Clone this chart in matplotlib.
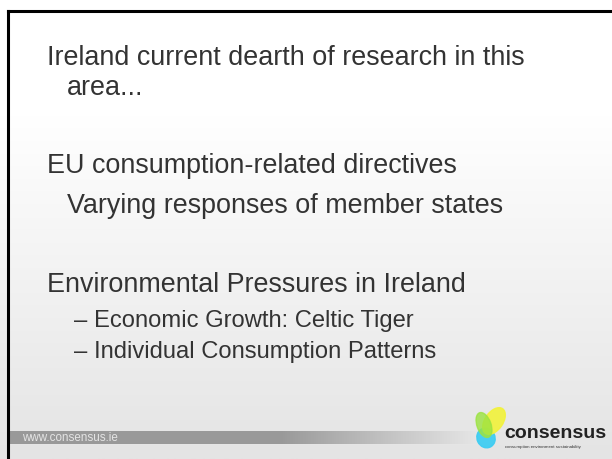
import numpy as np
import matplotlib
matplotlib.use("Agg")
import matplotlib.pyplot as plt
from matplotlib.patches import Ellipse
from matplotlib.colors import LinearSegmentedColormap

# slide text (y = baseline in pixels)
main_lines = ["Ireland current dearth of research in this",
              "EU consumption-related directives",
              "Environmental Pressures in Ireland"]
main_y = [65, 173, 292]
cont_lines = ["area...", "Varying responses of member states"]
cont_y = [95, 213]
sub_lines = ["– Economic Growth: Celtic Tiger",
             "– Individual Consumption Patterns"]
sub_y = [327, 358]
footer_url = "www.consensus.ie"
logo_name = "consensus"
logo_tag = "consumption environment sustainability"

W, H = 612, 459
fig = plt.figure(figsize=(W / 100, H / 100), dpi=100)
ax = fig.add_axes([0, 0, 1, 1])
ax.set_xlim(0, W)
ax.set_ylim(H, 0)
ax.axis("off")

# background: white fading to light gray toward the bottom
grad = np.linspace(0, 1, 200).reshape(-1, 1)
grad = np.clip((grad - 0.25) / 0.75, 0, 1)
bg = LinearSegmentedColormap.from_list("bg", ["#ffffff", "#e4e4e4"])
ax.imshow(grad, cmap=bg, extent=[0, W, H, 0], aspect="auto", zorder=0)

# frame lines (top and left)
ax.plot([8, W], [11, 11], color="black", lw=2.2, zorder=3)
ax.plot([8, 8], [11, H], color="black", lw=2.2, zorder=3)

font = "Liberation Sans"
txt_col = "#333333"
for s, y in zip(main_lines, main_y):
    ax.text(47, y, s, fontsize=19.4, family=font, color=txt_col, va="baseline")
for s, y in zip(cont_lines, cont_y):
    ax.text(67, y, s, fontsize=19.4, family=font, color=txt_col, va="baseline")
for s, y in zip(sub_lines, sub_y):
    ax.text(74, y, s, fontsize=17.1, family=font, color=txt_col, va="baseline")

# footer bar: dark gray fading out to the right
bar = np.concatenate([np.zeros(270), np.linspace(0, 1, 200)]).reshape(1, -1)
bar_cm = LinearSegmentedColormap.from_list("bar", ["#999999", "#e6e6e6"])
ax.imshow(bar, cmap=bar_cm, extent=[9, 479, 444, 431], aspect="auto", zorder=1)
ax.text(22, 438, footer_url, fontsize=8.4, family=font, color="#e4e4e4",
        va="center")

# logo blobs
ax.add_patch(Ellipse((494, 421), 18, 30, angle=35, color="#f2f23a", alpha=0.9, zorder=2))
ax.add_patch(Ellipse((484, 425), 14, 26, angle=-20, color="#9be340", alpha=0.8, zorder=2))
ax.add_patch(Ellipse((486, 438), 18, 20, angle=-25, color="#3fcdf2", alpha=0.95, zorder=1.9))
ax.text(504, 433, logo_name, fontsize=14, family=font, weight="bold",
        color="#222222", va="center")
ax.text(505, 447, logo_tag, fontsize=3.2, family=font, color="#333333",
        va="center")

fig.savefig("out.png", dpi=100)
